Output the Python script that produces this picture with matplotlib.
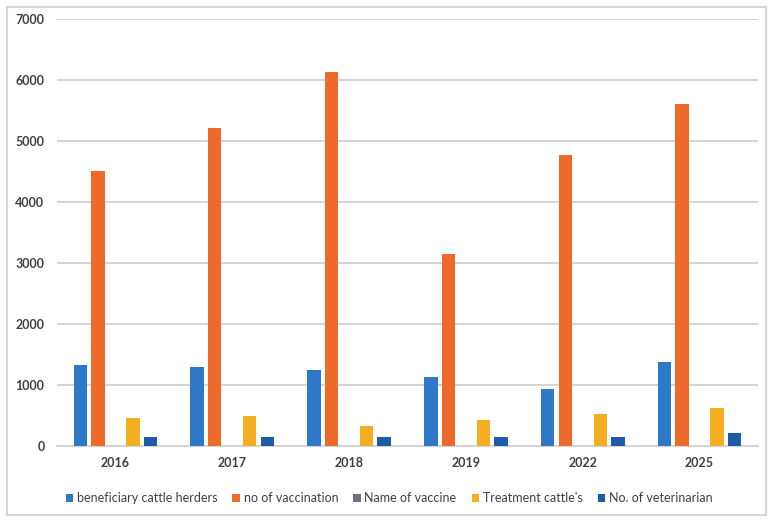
import matplotlib
matplotlib.use("Agg")
import matplotlib.pyplot as plt
import numpy as np
from matplotlib.patches import Rectangle

years = ["2016", "2017", "2018", "2019", "2022", "2025"]
series_names = ["beneficiary cattle herders", "no of vaccination", "Name of vaccine",
                "Treatment cattle's", "No. of veterinarian"]
beneficiary = [1330, 1290, 1250, 1130, 930, 1385]
vaccination = [4510, 5210, 6130, 3150, 4775, 5610]
name_of_vaccine = [0, 0, 0, 0, 0, 0]
treatment = [465, 495, 330, 425, 525, 625]
veterinarian = [145, 150, 145, 150, 150, 205]
yticks = [0, 1000, 2000, 3000, 4000, 5000, 6000, 7000]

colors = ["#2E78C8", "#EE6A2A", "#6B7385", "#F5AE22", "#1E5BA8"]
series = [beneficiary, vaccination, name_of_vaccine, treatment, veterinarian]

plt.rcParams['font.family'] = ['Lato', 'DejaVu Sans']

fig = plt.figure(figsize=(7.69, 5.22), dpi=100)
fig.patches.append(Rectangle((7/769, 1 - 515/522), (766 - 7)/769, (515 - 7)/522,
                             transform=fig.transFigure, fill=False,
                             edgecolor="#d6d6d6", linewidth=1.5))
ax = fig.add_axes([57/769, 1 - 446/522, (758 - 57)/769, (446 - 19)/522])

x = np.arange(len(years))
slot = 0.15
width = 0.115
for k, (vals, col, nm) in enumerate(zip(series, colors, series_names)):
    ax.bar(x + (k - 2) * slot, vals, width=width, color=col, label=nm, zorder=3)

ax.set_xlim(-0.5, 5.5)
ax.set_ylim(0, 7000)
ax.set_yticks(yticks)
ax.set_yticklabels([str(v) for v in yticks])
ax.set_xticks(x)
ax.set_xticklabels(years)
ax.grid(axis="y", color="#d4d4d4", linewidth=1.4, zorder=0)
for s in ["top", "right", "left"]:
    ax.spines[s].set_visible(False)
ax.spines["bottom"].set_color("#d4d4d4")
ax.spines["bottom"].set_linewidth(1.4)
ax.tick_params(axis="both", length=0, labelsize=9, colors="#404040")
ax.tick_params(axis="x", pad=8)
ax.tick_params(axis="y", pad=9)
for lbl in ax.get_xticklabels() + ax.get_yticklabels():
    lbl.set_fontweight("bold")

leg = fig.legend(loc="center", bbox_to_anchor=(389/769, 1 - 498/522), ncol=5,
                 frameon=False, fontsize=9, handlelength=0.6, handleheight=0.6,
                 handletextpad=0.3, columnspacing=1.2, labelcolor="#404040")

fig.savefig("out.png", dpi=100)
